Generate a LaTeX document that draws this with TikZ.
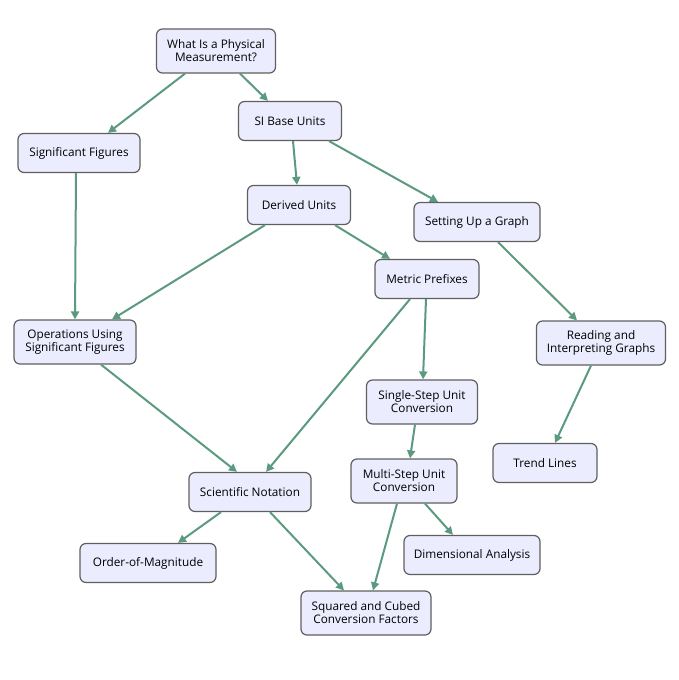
\documentclass[tikz,border=0pt]{standalone}
\usepackage{fontspec}
\setmainfont{Open Sans}
\usetikzlibrary{arrows.meta}
\definecolor{boxfill}{HTML}{ECECFF}
\definecolor{boxline}{HTML}{5F5F5F}
\definecolor{edgecol}{HTML}{5B9A7F}
\tikzset{
	topic/.style={draw=boxline, fill=boxfill, line width=1.2pt, rounded corners=6pt,
		align=center, font=\fontsize{11.8}{13}\selectfont, inner sep=2pt,
		minimum height=39pt},
	twoline/.style={minimum height=44pt},
	edge/.style={draw=edgecol, line width=2pt, -{Triangle[length=8pt,width=8pt]}}
}
\begin{document}
\begin{tikzpicture}[x=1pt, y=-1pt]
	\useasboundingbox (0,0) rectangle (679,680);
	%nodes
	\node[topic, twoline, minimum width=119pt] (what) at (216,51) {What Is a Physical\\Measurement?};
	\node[topic, minimum width=103pt] (base) at (290,121) {SI Base Units};
	\node[topic, minimum width=122pt] (sigfig) at (79,153) {Significant Figures};
	\node[topic, minimum width=103pt] (derived) at (299,205) {Derived Units};
	\node[topic, minimum width=126pt] (graph) at (477,222) {Setting Up a Graph};
	\node[topic, minimum width=104pt] (prefix) at (427,279) {Metric Prefixes};
	\node[topic, twoline, minimum width=122pt] (ops) at (75,342) {Operations Using\\Significant Figures};
	\node[topic, twoline, minimum width=129pt] (reading) at (601,343) {Reading and\\Interpreting Graphs};
	\node[topic, twoline, minimum width=111pt] (single) at (422,402) {Single-Step Unit\\Conversion};
	\node[topic, minimum width=104pt] (trend) at (545,463) {Trend Lines};
	\node[topic, twoline, minimum width=106pt] (multi) at (404,481) {Multi-Step Unit\\Conversion};
	\node[topic, minimum width=122pt] (sci) at (250,492) {Scientific Notation};
	\node[topic, minimum width=136pt] (order) at (148,563) {Order-of-Magnitude};
	\node[topic, minimum width=136pt] (dim) at (472,555) {Dimensional Analysis};
	\node[topic, twoline, minimum width=130pt] (squared) at (366,613) {Squared and Cubed\\Conversion Factors};
	%edges
	\foreach \a/\sa/\b/\sb in {what/-31/sigfig/29, what/24/base/-22, base/3/derived/-2,
		base/39/graph/-39, sigfig/-3/ops/0, derived/-34/ops/37, derived/36/prefix/-37,
		graph/21/reading/-24, prefix/-17/sci/16, prefix/-1/single/1, ops/26/sci/-13,
		reading/-10/trend/10, single/-7/multi/6, sci/-29/order/30, sci/20/squared/-22,
		multi/-7/squared/7, multi/21/dim/-19}
	\draw[edge] ([xshift=\sa pt]\a.south) -- ([xshift=\sb pt]\b.north);
\end{tikzpicture}
\end{document}
